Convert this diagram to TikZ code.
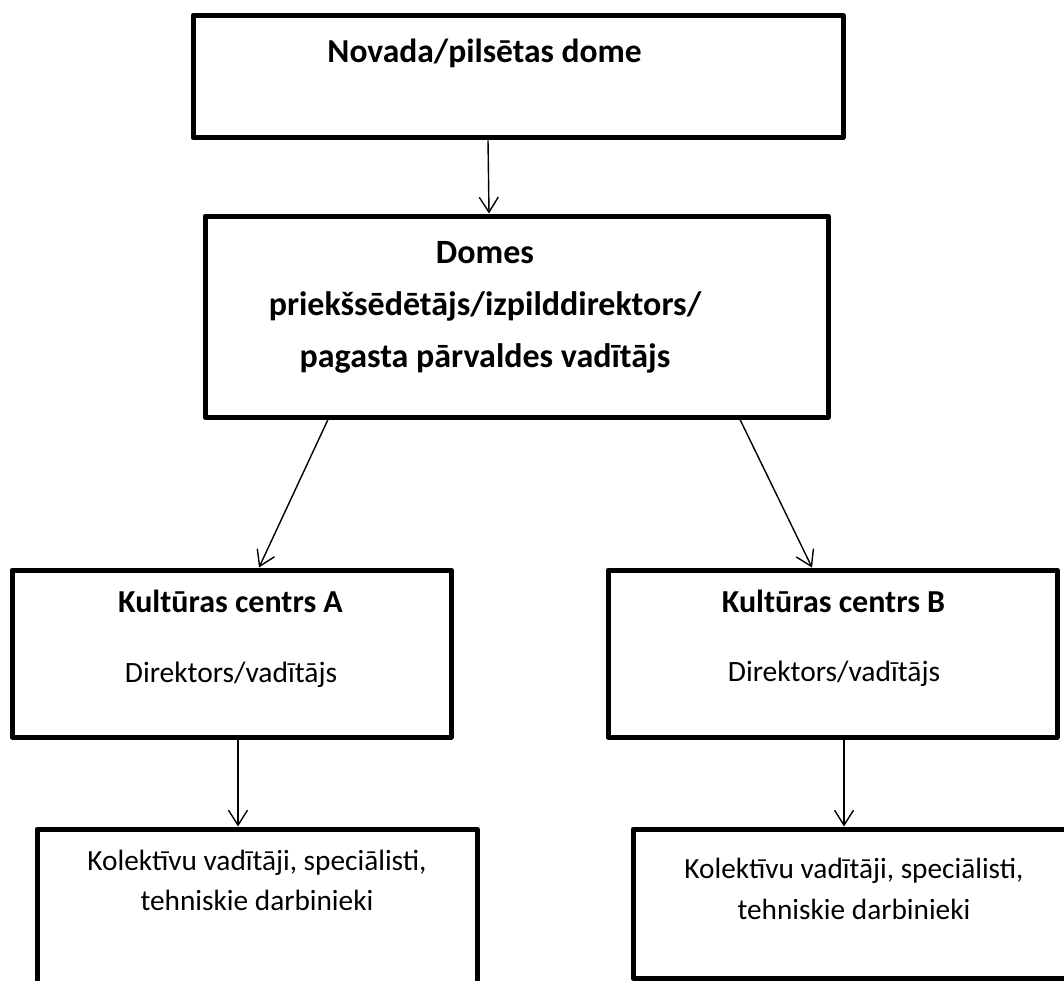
\documentclass[tikz,border=0pt]{standalone}
\usepackage{fontspec}
\setmainfont{Carlito}
\usetikzlibrary{arrows.meta}

\tikzset{
  box/.style={draw,line width=5pt,line join=round,rectangle,inner sep=0pt},
  link/.style={-{Straight Barb[length=15pt,width=19pt]},line width=1.4pt},
  head/.style={anchor=base,font=\fontsize{33.5}{52}\selectfont\bfseries},
  plain/.style={anchor=base,font=\fontsize{29.5}{40}\selectfont},
}

\begin{document}
\begin{tikzpicture}[x=1pt,y=-1pt]
\clip (0,0) rectangle (1064,980);
\fill[white] (0,0) rectangle (1064,980);
%
\node[box,minimum width=650pt,minimum height=122.5pt] (dome) at (518,76.5) {};
\node[box,minimum width=623pt,minimum height=201pt] (vad) at (516.5,316.5) {};
\node[box,minimum width=439pt,minimum height=167pt] (kcA) at (231.5,653.5) {};
\node[box,minimum width=449pt,minimum height=167pt] (kcB) at (832.5,653.5) {};
\node[box,minimum width=440pt,minimum height=180pt] (kolA) at (257,919) {};
\node[box,minimum width=443pt,minimum height=149pt] (kolB) at (854.5,903.5) {};
%
\node[head] (domeT) at (484.5,62) {Novada/pilsētas dome};
\node[head,align=center,font=\fontsize{34}{52}\selectfont\bfseries] (vadT) at (485,367)
  {Domes\\priekšsēdētājs/izpilddirektors/\\pagasta pārvaldes vadītājs};
%
\node[head,font=\fontsize{32}{34}\selectfont\bfseries] (kcAT) at (230.5,612) {Kultūras centrs A};
\node[plain] (kcAD) at (231,682) {Direktors/vadītājs};
\node[head,font=\fontsize{32}{34}\selectfont\bfseries] (kcBT) at (833.5,612) {Kultūras centrs B};
\node[plain] (kcBD) at (834,681) {Direktors/vadītājs};
%
\node[plain,align=center,font=\fontsize{29.3}{40}\selectfont] (kolAT) at (257,910) {Kolektīvu vadītāji, speciālisti,\\tehniskie darbinieki};
\node[plain,align=center,font=\fontsize{29.3}{41}\selectfont] (kolBT) at (854,919) {Kolektīvu vadītāji, speciālisti,\\tehniskie darbinieki};
%
\draw[link] ([xshift=-30pt]dome.south) -- ([xshift=-27.5pt]vad.north);
\draw[link] ([xshift=-188.5pt]vad.south) -- ([xshift=27.5pt]kcA.north);
\draw[link] ([xshift=223.5pt]vad.south) -- ([xshift=-20.5pt]kcB.north);
\draw[link] ([xshift=6.5pt]kcA.south) -- ([xshift=-19pt]kolA.north);
\draw[link] ([xshift=11.5pt]kcB.south) -- ([xshift=-10.5pt]kolB.north);
\end{tikzpicture}
\end{document}
